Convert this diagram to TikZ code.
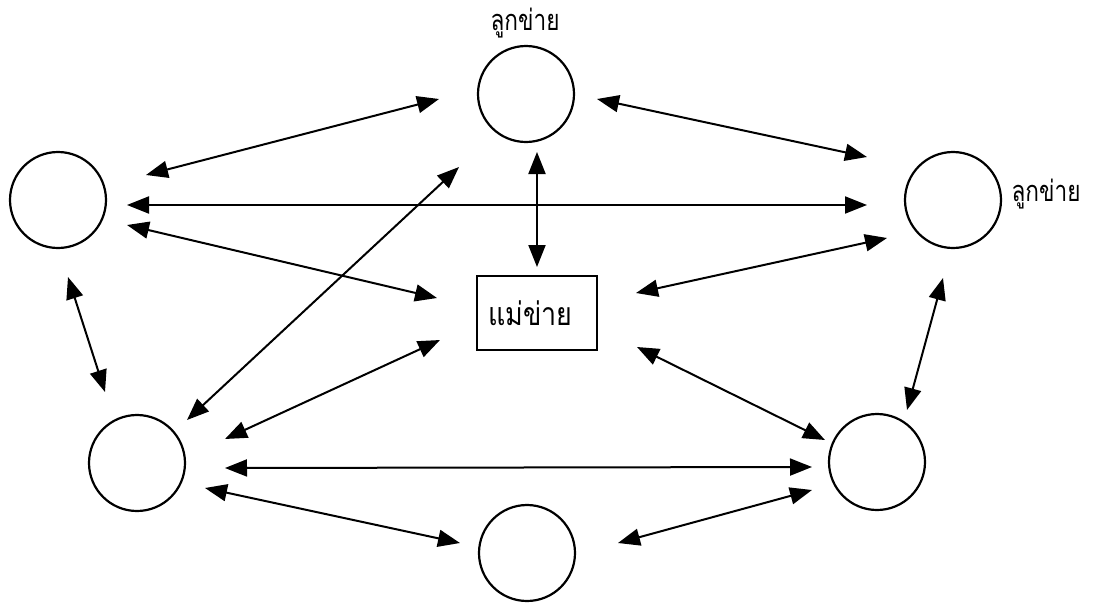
\documentclass[tikz,border=0pt]{standalone}
\usepackage{fontspec}
\newfontfamily\thaifont[Script=Thai]{Loma}
\usetikzlibrary{arrows.meta,calc}
\begin{document}
\begin{tikzpicture}[x=1pt,y=-1pt,
  client/.style={circle,draw,line width=2.2pt,minimum size=96pt,inner sep=0pt},
  server/.style={rectangle,draw,line width=1.8pt,minimum width=120pt,minimum height=74pt,
    text width=98pt,align=left,inner xsep=11pt,font=\thaifont\fontsize{32}{36}\selectfont},
  lbl/.style={font=\thaifont\fontsize{29}{34}\selectfont,inner sep=0pt},
  arr/.style={line width=2pt,{Triangle[length=22pt,width=17pt]}-{Triangle[length=22pt,width=17pt]}}]
\useasboundingbox (0,0) rectangle (1100,603);
% nodes
\node[client] (L)  at (58,200) {};
\node[client] (T)  at (526,94) {};
\node[client] (R)  at (953,200) {};
\node[client] (BL) at (137,463) {};
\node[client] (BR) at (877,462) {};
\node[client] (B)  at (527,553) {};
\node[server] (M)  at (537,313) {\scalebox{0.84}[1]{แม่ข่าย}};
\node[lbl] (tT) at (525,23) {\scalebox{0.78}[1]{ลูกข่าย}};
\node[lbl] (tR) at (1046,194) {\scalebox{0.78}[1]{ลูกข่าย}};
% connectors
\draw[arr] ($(L)+(88,-25)$) -- ($(T)+(-87,5)$);
\draw[arr] ($(T)+(71,5)$) -- ($(R)+(-86,-43)$);
\draw[arr] ($(L)+(69,5)$) -- ($(R)+(-86,5)$);
\draw[arr] ($(L)+(69,25)$) -- ($(M)+(-100,-15)$);
\draw[arr] ($(T)+(11,58)$) -- ($(M)+(0,-46)$);
\draw[arr] ($(M)+(99,-20)$) -- ($(R)+(-66,38)$);
\draw[arr] ($(L)+(10,77)$) -- ($(BL)+(-32,-71)$);
\draw[arr] ($(T)+(-67,73)$) -- ($(BL)+(50,-43)$);
\draw[arr] ($(M)+(-97,27)$) -- ($(BL)+(88,-24)$);
\draw[arr] ($(M)+(100,34)$) -- ($(BR)+(-52,-22)$);
\draw[arr] ($(R)+(-10,78)$) -- ($(BR)+(30,-52)$);
\draw[arr] ($(BL)+(88,5)$) -- ($(BR)+(-65,5)$);
\draw[arr] ($(BL)+(68,25)$) -- ($(B)+(-67,-10)$);
\draw[arr] ($(B)+(91,-10)$) -- ($(BR)+(-65,28)$);
\end{tikzpicture}
\end{document}
